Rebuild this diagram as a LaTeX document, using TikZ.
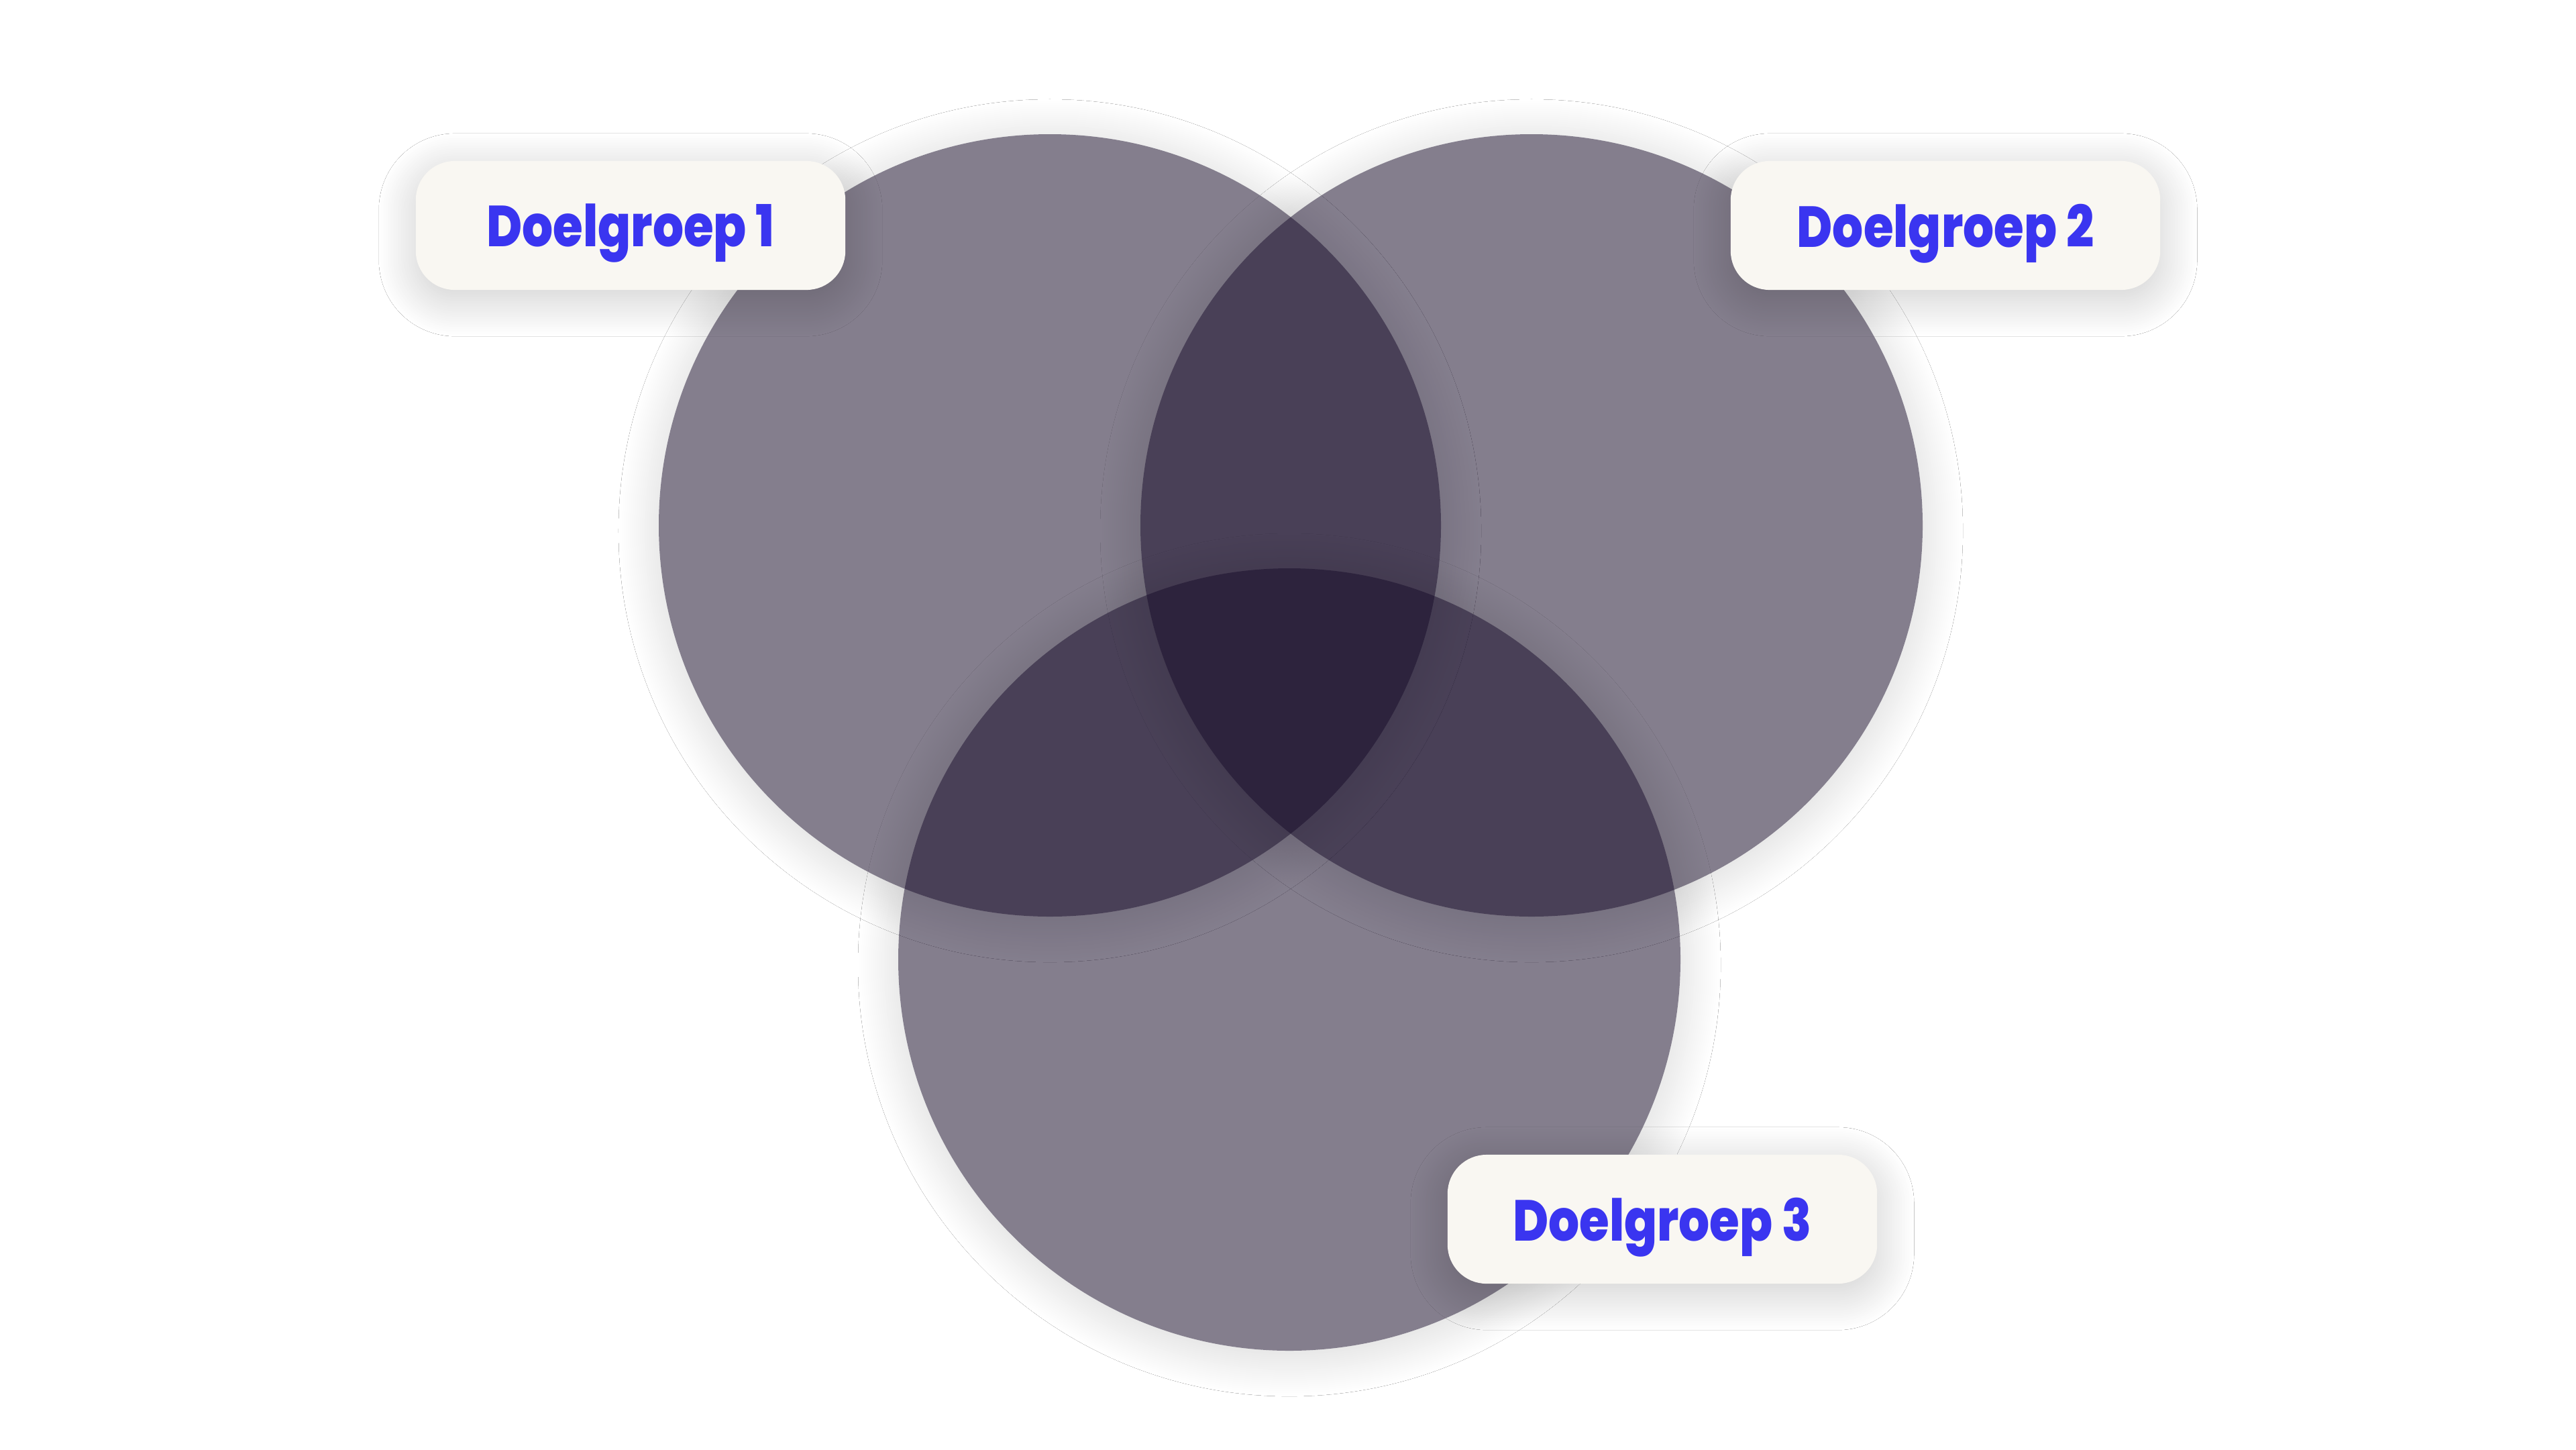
\documentclass[tikz,border=0pt]{standalone}
\usepackage{fontspec}
\usepackage{xcolor}
\usepackage{tikz}
\usetikzlibrary{shadows.blur}
\newfontfamily\labelfont{Poppins ExtraBold}[FakeStretch=0.84]

\definecolor{vennfill}{HTML}{140926}
\definecolor{labelbg}{HTML}{F9F7F2}
\definecolor{labeltext}{HTML}{3A35F0}

\tikzset{
	vennshadow/.style = {blur shadow = {shadow blur radius = 0.6cm, shadow blur steps = 40, shadow xshift = 0cm, shadow yshift = -0.08cm, shadow opacity = 16}},
	vennset/.style = {fill = vennfill, fill opacity = 0.52},
	grouplabel/.style = {fill = labelbg, rounded corners = 0.58cm, minimum width = 6.4cm, minimum height = 1.92cm, inner sep = 0pt, text depth = 0pt, text = labeltext, font = \labelfont\fontsize{24.5}{28}\selectfont, blur shadow = {shadow blur radius = 0.55cm, shadow blur steps = 40, shadow xshift = 0cm, shadow yshift = -0.14cm, shadow opacity = 20}}
}

\begin{document}
\begin{tikzpicture}[x = 0.01cm, y = -0.01cm]
					\def\W{3840};
					\def\H{2160};
					\def\rC{583};

					\def\xA{1565};
					\def\yA{783};

					\def\xB{2283};
					\def\yB{783};

					\def\xC{1922};
					\def\yC{1430};

					\useasboundingbox [fill = white] (0,0) rectangle (\W,\H);

					\foreach \cx/\cy in {\xA/\yA, \xB/\yB, \xC/\yC} {
						\begin{scope}[even odd rule]
							\clip (0,0) rectangle (\W,\H) (\cx,\cy) circle [radius = \rC];
							\path [vennshadow] (\cx,\cy) circle [radius = \rC];
						\end{scope}
						\fill [vennset] (\cx,\cy) circle [radius = \rC];
					}

					\node [grouplabel] (doel1) at (940,336) {Doelgroep 1};
					\node [grouplabel] (doel2) at (2900,336) {Doelgroep 2};
					\node [grouplabel] (doel3) at (2478,1817) {Doelgroep 3};
\end{tikzpicture}
\end{document}
